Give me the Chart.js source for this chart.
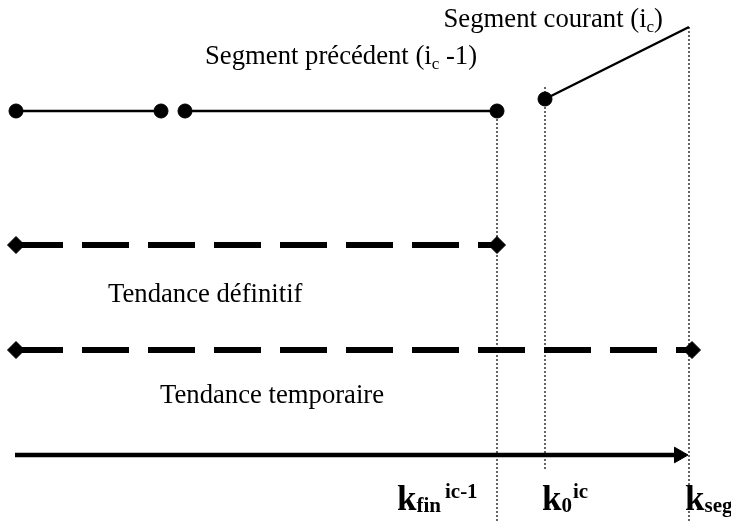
<!DOCTYPE html>
<html>
<head>
<meta charset="utf-8">
<script src="https://cdn.jsdelivr.net/npm/chart.js@4.4.0/dist/chart.umd.min.js"></script>
<style>
  html, body { margin: 0; padding: 0; background: #fff; }
  #wrap { width: 731px; height: 522px; position: relative; }
</style>
</head>
<body>
<div id="wrap"><canvas id="diagram"></canvas></div>
<script>
// plot frame, one unit per pixel of the reference
var xRange = [0, 731];
var yRange = [0, 522];

// previous segment (two pieces) and current segment
var prevFirstX = [16, 161];
var prevSecondX = [185, 497];
var prevY = [111, 111];
var currentX = [545, 689];
var currentY = [99, 27];

// trend lines
var definitifX = [16, 497];
var definitifY = [245, 245];
var temporaireX = [16, 692];
var temporaireY = [350, 350];

// dotted guides
var guideX = [497, 545, 689];
var guideTop = [111, 87, 27];
var guideBottom = [522, 470, 522];

// time axis arrow
var axisX = [15, 679];
var axisY = [455, 455];

// texts
var labelPrev = ['Segment précédent (i', 'c', ' -1)'];
var labelCurrent = ['Segment courant (i', 'c', ')'];
var labelDefinitif = 'Tendance définitif';
var labelTemporaire = 'Tendance temporaire';
var labelKfin = ['k', 'fin', 'ic-1'];
var labelK0 = ['k', '0', 'ic'];
var labelKseg = ['k', 'seg'];

var serif = '"Liberation Serif", "Times New Roman", serif';

function toPoints(xs, ys) {
  return xs.map(function (x, i) { return { x: x, y: ys[i] }; });
}

function solidLine(xs, ys, radius) {
  return {
    data: toPoints(xs, ys),
    showLine: true,
    borderColor: '#000',
    backgroundColor: '#000',
    borderWidth: 2.5,
    pointStyle: 'circle',
    pointRadius: radius,
    pointBorderWidth: 1,
    pointBackgroundColor: '#000',
    pointBorderColor: '#000'
  };
}

function dashedTrend(xs, ys) {
  return {
    data: toPoints(xs, ys),
    showLine: true,
    borderColor: '#000',
    borderWidth: 6,
    borderDash: [47, 19],
    pointStyle: 'rectRot',
    pointRadius: 8.5,
    pointBorderWidth: 1,
    pointBackgroundColor: '#000',
    pointBorderColor: '#000'
  };
}

var datasets = [
  solidLine(prevFirstX, prevY, 7),
  solidLine(prevSecondX, prevY, 7),
  solidLine(currentX, currentY, [7, 0]),
  dashedTrend(definitifX, definitifY),
  dashedTrend(temporaireX, temporaireY)
];

for (var g = 0; g < guideX.length; g++) {
  datasets.push({
    data: toPoints([guideX[g], guideX[g]], [guideTop[g], guideBottom[g]]),
    showLine: true,
    borderColor: '#000',
    borderWidth: 1.2,
    borderDash: [2, 2],
    pointRadius: 0
  });
}

datasets.push({
  data: toPoints(axisX, axisY),
  showLine: true,
  borderColor: '#000',
  borderWidth: 4.5,
  pointStyle: 'triangle',
  pointRotation: 90,
  pointRadius: [0, 9],
  pointBorderWidth: 1,
  pointBackgroundColor: '#000',
  pointBorderColor: '#000'
});

// draws a row of text pieces: [text, font, baseline shift, gap before]
function drawPieces(ctx, x, y, pieces, align) {
  var total = 0;
  pieces.forEach(function (p) {
    ctx.font = p[1];
    total += (p[3] || 0) + ctx.measureText(p[0]).width;
  });
  var cx = align === 'right' ? x - total : x;
  pieces.forEach(function (p) {
    ctx.font = p[1];
    cx += p[3] || 0;
    ctx.fillText(p[0], cx, y + (p[2] || 0));
    cx += ctx.measureText(p[0]).width;
  });
}

var textPlugin = {
  id: 'diagramText',
  afterDatasetsDraw: function (chart) {
    var ctx = chart.ctx;
    var xs = chart.scales.x;
    var ys = chart.scales.y;
    var px = function (v) { return xs.getPixelForValue(v); };
    var py = function (v) { return ys.getPixelForValue(v); };
    var big = '26.7px ' + serif;
    var small = '17px ' + serif;
    var bigBold = 'bold 35px ' + serif;
    var smallBold = 'bold 21px ' + serif;

    ctx.save();
    ctx.fillStyle = '#000';
    ctx.textBaseline = 'alphabetic';

    drawPieces(ctx, px(205), py(64), [
      [labelPrev[0], big], [labelPrev[1], small, 5], [labelPrev[2], big]
    ]);
    drawPieces(ctx, px(663), py(27), [
      [labelCurrent[0], big], [labelCurrent[1], small, 5], [labelCurrent[2], big]
    ], 'right');

    ctx.font = big;
    ctx.fillText(labelDefinitif, px(108), py(302));
    ctx.fillText(labelTemporaire, px(160), py(403));

    drawPieces(ctx, px(397), py(510), [
      [labelKfin[0], bigBold], [labelKfin[1], smallBold, 2], [labelKfin[2], smallBold, -12, 4]
    ]);
    drawPieces(ctx, px(542), py(510), [
      [labelK0[0], bigBold], [labelK0[1], smallBold, 2], [labelK0[2], smallBold, -12, 1]
    ]);
    drawPieces(ctx, px(685), py(510), [
      [labelKseg[0], bigBold], [labelKseg[1], smallBold, 2]
    ]);
    ctx.restore();
  }
};

new Chart(document.getElementById('diagram'), {
  type: 'scatter',
  data: { datasets: datasets },
  options: {
    responsive: true,
    maintainAspectRatio: false,
    animation: false,
    layout: { padding: 0, autoPadding: false },
    plugins: { legend: { display: false }, tooltip: { enabled: false } },
    scales: {
      x: { type: 'linear', min: xRange[0], max: xRange[1], display: false },
      y: { type: 'linear', min: yRange[0], max: yRange[1], reverse: true, display: false }
    }
  },
  plugins: [textPlugin]
});
</script>
</body>
</html>
